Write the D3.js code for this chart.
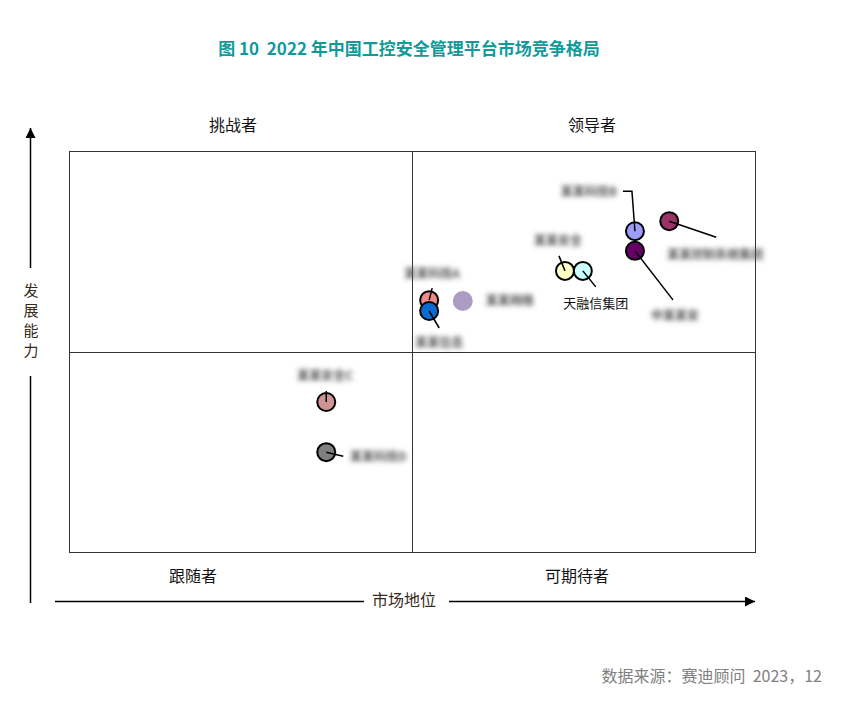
<!DOCTYPE html>
<html>
<head>
<meta charset="utf-8">
<script src="https://cdn.jsdelivr.net/npm/d3@7"></script>
<style>
  html, body { margin: 0; padding: 0; background: #fff; }
  svg { display: block; }
  text { font-family: "Noto Sans CJK SC", "Noto Sans", sans-serif; white-space: pre; }
</style>
</head>
<body>
<svg id="chart" width="844" height="706"></svg>
<script>
// ---------- data ----------
const titleText = "图 10  2022 年中国工控安全管理平台市场竞争格局";
const quadrantLabels = ["挑战者", "领导者", "跟随者", "可期待者"];
const xAxisLabel = "市场地位";
const yAxisLabel = "发展能力";
const sourceText = "数据来源：赛迪顾问  2023，12";

// companies (most names are blurred in the original)
const companies = ["某某科技A", "某某信息", "某某网络", "某某安全", "天融信集团", "某某科技B", "中某某安", "某某控制系统集团", "某某安全C", "某某科技D"];
const blurred   = [true, true, true, true, false, true, true, true, true, true];
const marketPos = [52.5, 52.5, 57.4, 72.3, 74.9, 82.5, 82.5, 87.5, 37.5, 37.5];
const devAbility= [62.8, 60.1, 62.6, 70.1, 70.1, 80.0, 75.1, 82.5, 37.4, 24.9];
const colors    = ["#F08A8A", "#0A6CD0", "#AC9CC4", "#FFFFC6", "#CCFFFF", "#9D9DF5", "#660066", "#993366", "#D09494", "#7F7F7F"];
const outlined  = [true, true, false, true, true, true, true, true, true, true];

// ---------- layout (pixel offsets from point centre) ----------
const labelOffset = [[3,-27],[10,32],[47,0],[-7,-30],[13,33],[-46,-40],[40,65],[46,33],[-1,-27],[52,4]];
const leaderPts = [
  [[3,-12]], [[10,17]], [], [[-6,-15]], [[13,16]],
  [[-3,-40],[-12,-40]], [[38,49]], [[47,16]], [[0,-11]], [[17,4]]
];

const svg = d3.select("#chart");

const defs = svg.append("defs");
defs.append("filter").attr("id","blur").attr("x","-20%").attr("y","-80%").attr("width","140%").attr("height","260%")
  .append("feGaussianBlur").attr("stdDeviation", 2.4);
const mk = defs.append("marker").attr("id","arrow").attr("viewBox","0 0 10 10")
  .attr("refX",10).attr("refY",5).attr("markerWidth",10).attr("markerHeight",10)
  .attr("markerUnits","userSpaceOnUse").attr("orient","auto");
mk.append("path").attr("d","M0,0 L10,5 L0,10 Z").attr("fill","#000");

const x = d3.scaleLinear().domain([0,100]).range([69,755]);
const y = d3.scaleLinear().domain([0,100]).range([552,151]);

// title
svg.append("text").attr("x", 409).attr("y", 55).attr("text-anchor","middle")
  .attr("font-size", 17).attr("font-weight","bold").attr("fill","#119A9A").text(titleText);

// quadrant box
const g = svg.append("g");
g.append("rect").attr("x", x(0)+0.5).attr("y", y(100)+0.5).attr("width", x(100)-x(0)).attr("height", y(0)-y(100))
  .attr("fill","none").attr("stroke","#333").attr("stroke-width",1);
g.append("line").attr("x1", Math.round(x(50))+0.5).attr("x2", Math.round(x(50))+0.5).attr("y1", y(100)).attr("y2", y(0))
  .attr("stroke","#333");
g.append("line").attr("y1", Math.round(y(50))+0.5).attr("y2", Math.round(y(50))+0.5).attr("x1", x(0)).attr("x2", x(100))
  .attr("stroke","#333");

// quadrant labels
const qPos = [[233,131],[592,131],[193,582],[577,582]];
quadrantLabels.forEach((t,i) => {
  svg.append("text").attr("x", qPos[i][0]).attr("y", qPos[i][1]).attr("text-anchor","middle")
    .attr("font-size", 16).attr("fill","#111").text(t);
});

// y axis arrow
svg.append("line").attr("x1",30.5).attr("x2",30.5).attr("y1",268).attr("y2",128)
  .attr("stroke","#000").attr("stroke-width",1.5).attr("marker-end","url(#arrow)");
svg.append("line").attr("x1",30.5).attr("x2",30.5).attr("y1",603).attr("y2",376)
  .attr("stroke","#000").attr("stroke-width",1.5);
yAxisLabel.split("").forEach((c,i) => {
  svg.append("text").attr("x", 31).attr("y", 296 + i*20).attr("text-anchor","middle")
    .attr("font-size", 15).attr("fill","#3a2a1a").text(c);
});

// x axis arrow
svg.append("line").attr("x1",55).attr("x2",364).attr("y1",601.5).attr("y2",601.5)
  .attr("stroke","#000").attr("stroke-width",1.5);
svg.append("line").attr("x1",449).attr("x2",755).attr("y1",601.5).attr("y2",601.5)
  .attr("stroke","#000").attr("stroke-width",1.5).attr("marker-end","url(#arrow)");
svg.append("text").attr("x", 404).attr("y", 606).attr("text-anchor","middle")
  .attr("font-size", 16).attr("fill","#3a2a1a").text(xAxisLabel);

// points
const data = companies.map((name,i) => ({
  name, blur: blurred[i], cx: x(marketPos[i]), cy: y(devAbility[i]),
  color: colors[i], outlined: outlined[i], lo: labelOffset[i], lead: leaderPts[i]
}));

const pg = svg.append("g");
data.forEach(d => {
  pg.append("circle").attr("cx", d.cx).attr("cy", d.cy).attr("r", d.outlined ? 9 : 10)
    .attr("fill", d.color)
    .attr("stroke", d.outlined ? "#000" : "none").attr("stroke-width", 2);
  if (d.lead.length) {
    const pts = [[d.cx,d.cy]].concat(d.lead.map(p => [d.cx+p[0], d.cy+p[1]]));
    pg.append("path").attr("d", d3.line()(pts)).attr("fill","none")
      .attr("stroke","#000").attr("stroke-width",1.5);
  }
});

// labels
data.forEach(d => {
  const t = svg.append("text").attr("x", d.cx + d.lo[0]).attr("y", d.cy + d.lo[1] + 4.5)
    .attr("text-anchor","middle").attr("font-size", 13).text(d.name);
  if (d.blur) {
    t.attr("fill","#555").attr("filter","url(#blur)").attr("font-size", 12).attr("font-weight","bold");
  } else {
    t.attr("fill","#111");
  }
});

// source
svg.append("text").attr("x", 822).attr("y", 682).attr("text-anchor","end")
  .attr("font-size", 16).attr("fill","#808080").text(sourceText);
</script>
</body>
</html>
